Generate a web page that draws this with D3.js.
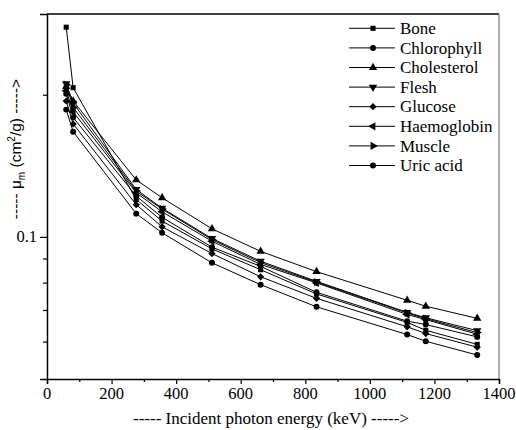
<!DOCTYPE html>
<html>
<head>
<meta charset="utf-8">
<script src="https://cdn.jsdelivr.net/npm/d3@7"></script>
</head>
<body style="margin:0">
<svg id="chart" width="516" height="430"></svg>
<script>
  // energies (keV)
  const energies = [59.5, 81, 276.4, 356.5, 511, 661.6, 834.8, 1115.5, 1173.2, 1332.5];

  const seriesNames = ['Bone', 'Chlorophyll', 'Cholesterol', 'Flesh', 'Glucose', 'Haemoglobin', 'Muscle', 'Uric acid'];
  const seriesSymbols = ['square', 'circle', 'triUp', 'triDown', 'diamond', 'triLeft', 'triRight', 'circle'];

  // mass attenuation coefficient (cm2/g)
  const bone        = [0.278, 0.207, 0.120, 0.108, 0.0943, 0.0852, 0.0757, 0.0659, 0.0634, 0.0592];
  const chlorophyll = [0.201, 0.179, 0.122, 0.110, 0.0951, 0.0866, 0.0763, 0.0663, 0.0652, 0.0614];
  const cholesterol = [0.208, 0.194, 0.132, 0.121, 0.104, 0.0932, 0.0844, 0.0734, 0.0713, 0.0672];
  const flesh       = [0.211, 0.192, 0.126, 0.115, 0.0992, 0.0888, 0.0805, 0.0692, 0.0674, 0.0633];
  const glucose     = [0.194, 0.1735, 0.117, 0.105, 0.0922, 0.0823, 0.0741, 0.0645, 0.0624, 0.0584];
  const haemoglobin = [0.204, 0.184, 0.124, 0.113, 0.0979, 0.0874, 0.0799, 0.0685, 0.0668, 0.0622];
  const muscle      = [0.210, 0.188, 0.125, 0.1145, 0.0987, 0.0882, 0.0802, 0.0690, 0.0671, 0.0627];
  const uricAcid    = [0.186, 0.167, 0.112, 0.102, 0.0881, 0.0792, 0.0711, 0.0621, 0.0601, 0.0562];

  const seriesValues = [bone, chlorophyll, cholesterol, flesh, glucose, haemoglobin, muscle, uricAcid];

  const xMajorTicks = [0, 200, 400, 600, 800, 1000, 1200, 1400];
  const xMinorTicks = [100, 300, 500, 700, 900, 1100, 1300];
  const yMajorTicks = [0.1];
  const yMinorTicks = [0.06, 0.07, 0.08, 0.09, 0.2];

  const width = 516, height = 430;
  const margin = { top: 14, right: 17, bottom: 51, left: 47 };
  const innerWidth = width - margin.left - margin.right;
  const innerHeight = height - margin.top - margin.bottom;

  const serif = '"Liberation Serif"';
  const sans = '"Liberation Sans"';

  const svg = d3.select('#chart');

  const x = d3.scaleLinear().domain([0, 1400]).range([0, innerWidth]);
  const y = d3.scaleLog().domain([0.05, 0.2965]).range([innerHeight, 0]);

  // --- texts first ---
  // legend labels
  seriesNames.forEach((name, i) => {
    svg.append('text')
      .attr('x', 400)
      .attr('y', 28.3 + i * 19.6)
      .attr('dy', '0.33em')
      .style('font-family', serif)
      .style('font-size', '17px')
      .text(name);
  });

  // x tick labels
  xMajorTicks.forEach(v => {
    svg.append('text')
      .attr('x', margin.left + x(v))
      .attr('y', margin.top + innerHeight + 20)
      .attr('text-anchor', 'middle')
      .style('font-family', serif)
      .style('font-size', '16.5px')
      .text(v);
  });

  // y tick labels
  yMajorTicks.forEach(v => {
    svg.append('text')
      .attr('x', margin.left - 10)
      .attr('y', margin.top + y(v))
      .attr('dy', '0.33em')
      .attr('text-anchor', 'end')
      .style('font-family', serif)
      .style('font-size', '16.5px')
      .text(v);
  });

  // axis titles
  svg.append('text')
    .attr('x', margin.left + innerWidth / 2 - 2)
    .attr('y', 424)
    .attr('text-anchor', 'middle')
    .style('font-family', serif)
    .style('font-size', '17px')
    .text('----- Incident photon energy (keV) ----->');

  const yTitle = svg.append('text')
    .attr('transform', 'translate(21,149) rotate(-90)')
    .attr('text-anchor', 'middle')
    .style('font-family', sans)
    .style('font-size', '15.5px');
  yTitle.append('tspan').text('----- \u03bc');
  yTitle.append('tspan').style('font-size', '10px').attr('dy', 4).text('m');
  yTitle.append('tspan').attr('dy', -4).text(' (cm');
  yTitle.append('tspan').style('font-size', '10px').attr('dy', -6).text('2');
  yTitle.append('tspan').attr('dy', 6).text('/g) ----->');

  // --- plot ---
  const g = svg.append('g')
    .attr('transform', `translate(${margin.left},${margin.top})`);

  // frame: top black, right grey
  g.append('line')
    .attr('x1', 0).attr('x2', innerWidth).attr('y1', 0).attr('y2', 0)
    .attr('stroke', '#000').attr('stroke-width', 1.5);
  g.append('line')
    .attr('x1', innerWidth).attr('x2', innerWidth).attr('y1', 0).attr('y2', innerHeight)
    .attr('stroke', '#777').attr('stroke-width', 1.2);

  // axes (lines and ticks only, labels drawn above)
  g.append('g')
    .attr('transform', `translate(0,${innerHeight})`)
    .call(d3.axisBottom(x).tickValues(xMajorTicks).tickSize(5).tickFormat(''));
  g.append('g')
    .attr('transform', `translate(0,${innerHeight})`)
    .call(d3.axisBottom(x).tickValues(xMinorTicks).tickSize(3).tickFormat(''))
    .select('.domain').remove();
  g.append('g')
    .call(d3.axisLeft(y).tickValues(yMajorTicks).tickSize(7).tickFormat(''));
  g.append('g')
    .call(d3.axisLeft(y).tickValues(yMinorTicks).tickSize(4).tickFormat(''))
    .select('.domain').remove();

  g.selectAll('g').attr('font-family', null).attr('font-size', null);
  g.selectAll('.tick text').remove();
  g.selectAll('.domain').attr('stroke', '#000').attr('stroke-width', 1.5);
  g.selectAll('.tick line').attr('stroke', '#000').attr('stroke-width', 1.2);

  // marker shapes
  function symbolPath(kind) {
    if (kind === 'square') return { d: d3.symbol(d3.symbolSquare, 26)(), rot: 0 };
    if (kind === 'circle') return { d: d3.symbol(d3.symbolCircle, 28)(), rot: 0 };
    if (kind === 'diamond') return { d: d3.symbol(d3.symbolSquare, 26)(), rot: 45 };
    const tri = d3.symbol(d3.symbolTriangle, 30)();
    const rot = { triUp: 0, triDown: 180, triLeft: -90, triRight: 90 }[kind];
    return { d: tri, rot: rot };
  }

  const line = d3.line()
    .x((d, i) => x(energies[i]))
    .y(d => y(d));

  seriesValues.forEach((vals, si) => {
    g.append('path')
      .datum(vals)
      .attr('d', line)
      .attr('fill', 'none')
      .attr('stroke', '#000')
      .attr('stroke-width', 1);

    const sym = symbolPath(seriesSymbols[si]);
    g.selectAll(null)
      .data(vals)
      .enter().append('path')
      .attr('d', sym.d)
      .attr('transform', (d, i) => `translate(${x(energies[i])},${y(d)}) rotate(${sym.rot})`)
      .attr('fill', '#000');
  });

  // legend lines and markers
  const legend = svg.append('g')
    .selectAll('g')
    .data(seriesNames)
    .enter().append('g')
    .attr('transform', (d, i) => `translate(349,${28.3 + i * 19.6})`);

  legend.append('line')
    .attr('x1', 0).attr('x2', 46)
    .attr('stroke', '#000').attr('stroke-width', 1);

  legend.append('path')
    .attr('d', (d, i) => symbolPath(seriesSymbols[i]).d)
    .attr('transform', (d, i) => `translate(24,0) rotate(${symbolPath(seriesSymbols[i]).rot})`)
    .attr('fill', '#000');
</script>
</body>
</html>
